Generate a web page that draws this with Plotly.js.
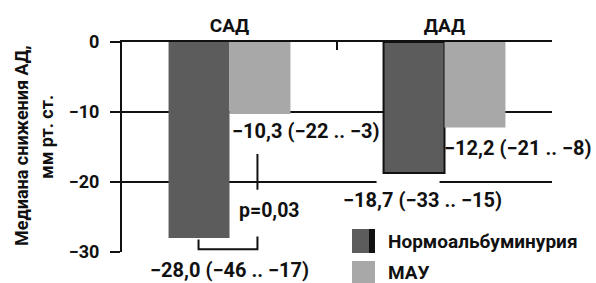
<!DOCTYPE html>
<html><head><meta charset="utf-8">
<script src="https://cdn.plot.ly/plotly-3.0.1.min.js"></script>
<style>html,body{margin:0;padding:0;background:#fff}#c{width:596px;height:283px}</style>
</head><body><div id="c"></div>
<script>
const categories = ['САД', 'ДАД'];
const seriesNames = ['Нормоальбуминурия', 'МАУ'];
const normoMedian = [-28.0, -18.7];
const normoLow = [-46, -33];
const normoHigh = [-17, -15];
const mauMedian = [-10.3, -12.2];
const mauLow = [-22, -21];
const mauHigh = [-3, -8];
const pValue = '0,03';
const yTicks = [0, -10, -20, -30];

const DARK = '#5c5c5c', LIGHT = '#a8a8a8';
const FONT = 'Roboto, "DejaVu Sans Condensed", sans-serif';
const neg = v => (v < 0 ? '−' : '') + Math.abs(v);
const fmt1 = v => (v < 0 ? '−' : '') + Math.abs(v).toFixed(1).replace('.', ',');
const lab = (m, lo, hi) => `${fmt1(m)} (${neg(lo)} .. ${neg(hi)})`;

const traces = [
  {type: 'bar', x: categories, y: normoMedian, name: seriesNames[0],
   marker: {color: DARK, line: {color: ['rgba(0,0,0,0)', '#111'], width: [0, 2]}}, showlegend: false, hoverinfo: 'skip'},
  {type: 'bar', x: categories, y: mauMedian, name: seriesNames[1],
   marker: {color: LIGHT, line: {width: 0}}, showlegend: false, hoverinfo: 'skip'}
];

const f = s => ({family: FONT, size: s, color: '#111', weight: 700});
const blk = {color: '#111', width: 2};
const px = p => (p - 122) / 430, py = p => (252 - p) / 210;

const annotations = [
  {xref: 'x', yref: 'y', x: 0.358, y: -12.7, text: lab(mauMedian[0], mauLow[0], mauHigh[0]), font: f(20)},
  {xref: 'x', yref: 'y', x: 0.898, y: -22.6, text: lab(normoMedian[1], normoLow[1], normoHigh[1]), font: f(20)},
  {xref: 'x', yref: 'y', x: 1.344, y: -15.1, text: lab(mauMedian[1], mauLow[1], mauHigh[1]), font: f(20)},
  {xref: 'x', yref: 'y', x: 0.186, y: -24, text: 'p=' + pValue, font: f(19.5)},
  {xref: 'paper', yref: 'paper', x: px(229), y: py(270), text: lab(normoMedian[0], normoLow[0], normoHigh[0]), font: f(20)},
  // y-axis title lines
  {xref: 'paper', yref: 'paper', x: px(21), y: py(146), text: 'Медиана снижения АД,', textangle: -90, font: f(18)},
  {xref: 'paper', yref: 'paper', x: px(46), y: py(137), text: 'мм рт. ст.', textangle: -90, font: f(18)},
  // legend text
  {xref: 'paper', yref: 'paper', x: px(386), y: py(241), xanchor: 'left', text: seriesNames[0], font: f(19)},
  {xref: 'paper', yref: 'paper', x: px(386), y: py(272), xanchor: 'left', text: seriesNames[1], font: f(19)}
].map(a => Object.assign({showarrow: false, xanchor: 'center', yanchor: 'middle'}, a));

const shapes = [
  // grid lines
  {type: 'line', xref: 'x', yref: 'y', x0: -0.5, x1: 1.5, y0: -10, y1: -10, line: blk, layer: 'below'},
  {type: 'line', xref: 'x', yref: 'y', x0: -0.5, x1: 0.684, y0: -20, y1: -20, line: blk, layer: 'below'},
  {type: 'line', xref: 'x', yref: 'y', x0: 0.977, x1: 1.5, y0: -20, y1: -20, line: blk, layer: 'below'},
  // p bracket
  {type: 'line', xref: 'x', yref: 'y', x0: 0.13, x1: 0.13, y0: -16, y1: -21.1, line: blk},
  {type: 'path', xref: 'x', yref: 'y', path: 'M -0.144,-28.2 L -0.144,-29.6 L 0.13,-29.6 L 0.13,-27.8', line: blk},
  // legend swatches
  {type: 'rect', xref: 'paper', yref: 'paper', x0: px(352), x1: px(369), y0: py(253), y1: py(229), fillcolor: DARK, line: {width: 0}},
  {type: 'rect', xref: 'paper', yref: 'paper', x0: px(369), x1: px(375), y0: py(253), y1: py(229), fillcolor: '#111', line: {width: 0}},
  {type: 'rect', xref: 'paper', yref: 'paper', x0: px(352), x1: px(375), y0: py(284), y1: py(261), fillcolor: LIGHT, line: {width: 0}}
];

const layout = {
  width: 596, height: 283,
  margin: {l: 122, r: 44, t: 42, b: 31, pad: 0},
  paper_bgcolor: '#fff', plot_bgcolor: '#fff',
  barmode: 'group', bargap: 0.433, bargroupgap: 0,
  showlegend: false,
  font: {family: FONT, size: 17, color: '#111'},
  xaxis: {type: 'category', side: 'top', range: [-0.5, 1.5], showline: true, linecolor: '#111', linewidth: 2,
    ticks: 'inside', tickson: 'boundaries', ticklen: 8, tickwidth: 2, tickcolor: '#111',
    showgrid: false, zeroline: false, tickfont: f(19), fixedrange: true},
  yaxis: {range: [-30, 0], tickvals: yTicks, ticktext: yTicks.map(neg), showline: true, linecolor: '#111', linewidth: 2,
    ticks: 'outside', ticklen: 10, tickwidth: 2, tickcolor: '#111', showgrid: false, zeroline: false,
    ticklabelstandoff: 7, tickfont: f(18), fixedrange: true},
  annotations, shapes
};
Plotly.newPlot('c', traces, layout, {staticPlot: true, displayModeBar: false});
</script></body></html>
